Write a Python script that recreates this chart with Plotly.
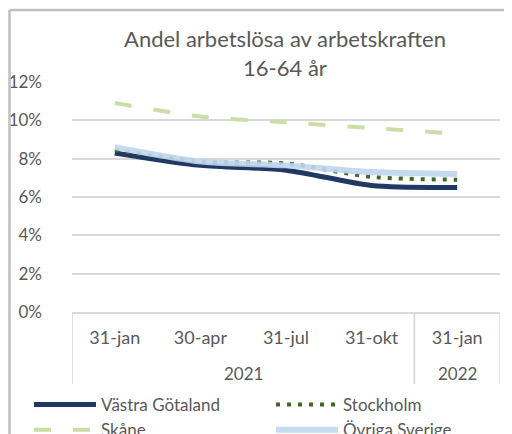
import plotly.graph_objects as go

years = ["2021", "2021", "2021", "2021", "2022"]
months = ["31-jan", "30-apr", "31-jul", "31-okt", "31-jan"]

vastra_gotaland = [8.3, 7.65, 7.4, 6.6, 6.5]
stockholm = [8.45, 7.85, 7.75, 7.05, 6.9]
skane = [10.9, 10.2, 9.9, 9.6, 9.3]
ovriga_sverige = [8.6, 7.85, 7.65, 7.3, 7.2]

y_ticks = [0, 2, 4, 6, 8, 10, 12]
y_ticktext = [f"{v}%" for v in y_ticks]

FONT = "Lato"
GRAY = "#595959"
AXIS = "#d9d9d9"

# the page body adds an 8px offset; work in window pixels and convert
OFF = 8
FW, FH = 512 - OFF, 434 - OFF
L, R, T, B = 72 - OFF, 500 - OFF, 82 - OFF, 312 - OFF
W, H = R - L, B - T
def px(xw):
    return (xw - OFF - L) / W
def py(yw):
    return (B - (yw - OFF)) / H

xi = list(range(len(months)))
fig = go.Figure()
fig.add_trace(go.Scatter(x=xi, y=vastra_gotaland, name="Västra Götaland", mode="lines",
                         line=dict(color="#1f3864", width=5, shape="spline", smoothing=0.8),
                         legendrank=1))
fig.add_trace(go.Scatter(x=xi, y=stockholm, name="Stockholm", mode="lines",
                         line=dict(color="#3d6b25", width=4, dash="4px,7px", shape="spline", smoothing=0.8),
                         legendrank=2))
fig.add_trace(go.Scatter(x=xi, y=skane, name="Skåne", mode="lines",
                         line=dict(color="#cadfa6", width=4, dash="17px,22px", shape="spline", smoothing=0.8),
                         legendrank=3))
fig.add_trace(go.Scatter(x=xi, y=ovriga_sverige, name="Övriga Sverige", mode="lines",
                         line=dict(color="#c0d6ee", width=6, shape="spline", smoothing=0.8),
                         opacity=0.9, legendrank=4))

groups = []
for i, yv in enumerate(years):
    if not groups or groups[-1][0] != yv:
        groups.append([yv, i, i])
    else:
        groups[-1][2] = i

annotations = []
shapes = [
    dict(type="line", xref="paper", yref="paper", x0=px(9.5), x1=px(9.5), y0=py(10), y1=py(460),
         line=dict(color="#bfbfbf", width=2.5)),
    dict(type="line", xref="paper", yref="paper", x0=px(9.5), x1=px(540), y0=py(10), y1=py(10),
         line=dict(color="#bfbfbf", width=2.5)),
]
for name, i0, i1 in groups:
    annotations.append(dict(text=name, x=(i0 + i1) / 2, xref="x", y=py(373), yref="paper",
                            showarrow=False, yanchor="middle", font=dict(size=17, color=GRAY)))
    for edge in (i0 - 0.5, i1 + 0.5):
        shapes.append(dict(type="line", xref="x", yref="paper", x0=edge, x1=edge, y0=0, y1=py(384),
                           line=dict(color=AXIS, width=1.5)))

fig.update_layout(
    width=FW, height=FH,
    margin=dict(l=L, r=FW - R, t=T, b=FH - B, autoexpand=False),
    paper_bgcolor="white", plot_bgcolor="white",
    font=dict(family=FONT, color=GRAY, size=16),
    title=dict(text="Andel arbetslösa av arbetskraften<br>16-64 år", x=px(285), xref="paper",
               y=1 - 39 / FH, yanchor="middle", font=dict(size=22, color=GRAY)),
    showlegend=True,
    legend=dict(orientation="h", x=px(29), xanchor="left", y=py(387), yanchor="top",
                itemwidth=62, entrywidth=165, entrywidthmode="pixels",
                font=dict(size=17, color=GRAY), tracegroupgap=0, bgcolor="rgba(0,0,0,0)"),
    shapes=shapes,
    annotations=annotations,
)
fig.update_yaxes(range=[0, 12], tickvals=y_ticks, ticktext=y_ticktext, showgrid=True,
                 gridcolor=AXIS, gridwidth=1.5, zeroline=False, showline=False, automargin=False,
                 ticks="", ticklabelstandoff=29, tickfont=dict(size=17, color=GRAY))
fig.update_xaxes(range=[-0.5, len(months) - 0.5], tickvals=xi, ticktext=months,
                 showline=True, linecolor=AXIS, linewidth=1.5, automargin=False,
                 ticks="", showgrid=False, zeroline=False, ticklabelstandoff=9,
                 tickfont=dict(size=18, color=GRAY))

fig.write_html("out.html")
